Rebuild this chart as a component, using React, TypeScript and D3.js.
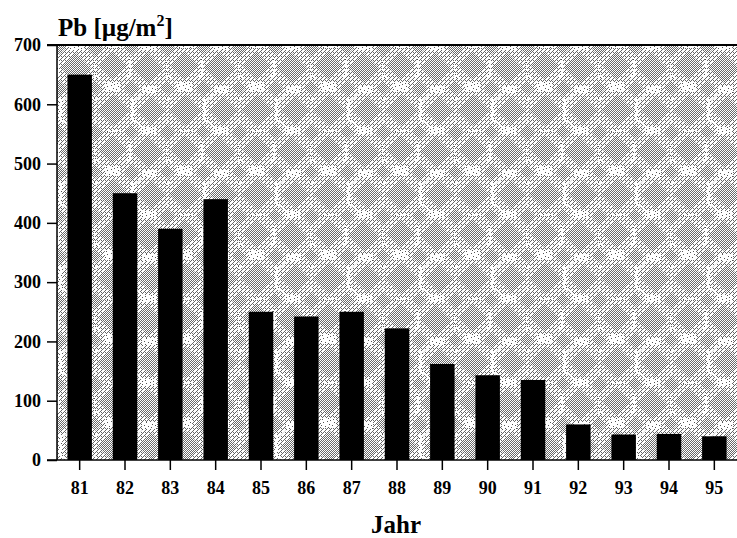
/** App.tsx */
import { useEffect, useRef } from 'react'
import * as d3 from 'd3'

// Jahr (x axis categories)
const years = ['81', '82', '83', '84', '85', '86', '87', '88', '89', '90', '91', '92', '93', '94', '95']
// Pb deposition [µg/m²]
const lead = [650, 450, 390, 440, 250, 242, 250, 222, 162, 143, 135, 60, 43, 44, 40]
// y axis ticks
const yTicks = [0, 100, 200, 300, 400, 500, 600, 700]

const WIDTH = 737
const HEIGHT = 538
const margin = { top: 45, right: 0, bottom: 78, left: 57 }
const FONT = '"Liberation Serif", "Times New Roman", serif'

// octagon path around a centre, used for the dithered blobs of the background
const octagon = (cx: number, cy: number, r: number) => {
  const k = r * 0.45
  return `M${cx - k},${cy - r} L${cx + k},${cy - r} L${cx + r},${cy - k} L${cx + r},${cy + k} L${cx + k},${cy + r} L${cx - k},${cy + r} L${cx - r},${cy + k} L${cx - r},${cy - k} Z`
}
// diamond path (rotated square)
const diamond = (cx: number, cy: number, r: number) =>
  `M${cx},${cy - r} L${cx + r},${cy} L${cx},${cy + r} L${cx - r},${cy} Z`

const App = () => {
  const svgRef = useRef<SVGSVGElement | null>(null)
  const width = WIDTH - margin.left - margin.right
  const height = HEIGHT - margin.top - margin.bottom

  useEffect(() => {
    document.body.style.margin = '0'

    const xScale = d3
      .scaleBand<string>()
      .domain(years)
      .range([0, width])
      .paddingInner(0.46)
      .paddingOuter(0.23)
    const yScale = d3.scaleLinear().domain([0, 700]).range([height, 0])

    const svgEl = d3.select(svgRef.current)
    svgEl.selectAll('*').remove()
    const defs = svgEl.append('defs')

    // helper: a small pixel pattern on white
    const pixelPattern = (id: string, w: number, h: number, pts: number[][], color: string) => {
      const p = defs
        .append('pattern')
        .attr('id', id)
        .attr('width', w)
        .attr('height', h)
        .attr('patternUnits', 'userSpaceOnUse')
      p.append('rect').attr('width', w).attr('height', h).attr('fill', '#fff')
      pts.forEach(([px, py]) => {
        p.append('rect').attr('x', px).attr('y', py).attr('width', 1).attr('height', 1).attr('fill', color)
      })
    }
    // dense checker inside the cores of the blobs
    pixelPattern('checker', 2, 2, [[0, 0], [1, 1]], '#6a6a6a')
    // medium density halo around the blobs
    pixelPattern('medium', 4, 4, [[0, 0], [2, 2], [1, 3], [3, 1], [2, 0]], '#666')
    // sparse scattered dots
    pixelPattern('sparse', 11, 9, [[0, 0], [4, 2], [8, 1], [2, 5], [6, 6], [10, 4], [3, 8], [9, 7]], '#555')

    // larger texture tile with blob clusters
    const tex = defs
      .append('pattern')
      .attr('id', 'texture')
      .attr('width', 72)
      .attr('height', 84)
      .attr('patternUnits', 'userSpaceOnUse')
      .attr('x', 2)
      .attr('y', 3)
    tex.append('rect').attr('width', 72).attr('height', 84).attr('fill', 'url(#sparse)')
    const blobs = [
      [17, 20, 13], [53, 17, 12], [20, 62, 12], [55, 63, 14],
      [72, 40, 6], [0, 40, 6], [36, 40, 5], [36, 84, 6], [36, 0, 6],
      [72, 84, 5], [0, 84, 5], [72, 0, 5], [0, 0, 5],
    ]
    tex
      .append('path')
      .attr('d', blobs.map(([cx, cy, r]) => octagon(cx, cy, r + 5)).join(' '))
      .attr('fill', 'url(#medium)')
    tex
      .append('path')
      .attr('d', blobs.map(([cx, cy, r]) => diamond(cx, cy, r + 2)).join(' '))
      .attr('fill', 'url(#checker)')

    const svg = svgEl
      .append('g')
      .attr('transform', `translate(${margin.left},${margin.top})`)

    // Plot background
    svg
      .append('rect')
      .attr('x', 0)
      .attr('y', 0)
      .attr('width', width)
      .attr('height', height)
      .attr('fill', 'url(#texture)')
      .attr('shape-rendering', 'crispEdges')

    // Bars
    svg
      .selectAll('.bar')
      .data(lead)
      .enter()
      .append('rect')
      .attr('class', 'bar')
      .attr('x', (_d, i) => xScale(years[i]) as number)
      .attr('y', (d) => yScale(d))
      .attr('width', xScale.bandwidth())
      .attr('height', (d) => height - yScale(d))
      .attr('fill', '#000')

    // Frame lines: top, left, bottom
    svg
      .append('line')
      .attr('x1', -10)
      .attr('x2', width)
      .attr('y1', 0)
      .attr('y2', 0)
      .attr('stroke', '#000')
      .attr('stroke-width', 2)
    svg
      .append('line')
      .attr('x1', 0)
      .attr('x2', 0)
      .attr('y1', 0)
      .attr('y2', height)
      .attr('stroke', '#000')
      .attr('stroke-width', 1.5)
    svg
      .append('line')
      .attr('x1', -10)
      .attr('x2', width)
      .attr('y1', height)
      .attr('y2', height)
      .attr('stroke', '#000')
      .attr('stroke-width', 1.5)

    // Y axis
    const yAxis = d3
      .axisLeft(yScale)
      .tickValues(yTicks)
      .tickSize(10)
      .tickPadding(6)
      .tickFormat((d) => String(d))
    const yAxisGroup = svg.append('g').call(yAxis)
    yAxisGroup.select('.domain').remove()
    yAxisGroup.selectAll('line').attr('stroke', '#000').attr('stroke-width', 1.5)
    yAxisGroup
      .selectAll('text')
      .attr('fill', '#000')
      .style('font-family', FONT)
      .style('font-weight', 'bold')
      .style('font-size', '18px')

    // X axis
    const xAxis = d3.axisBottom(xScale).tickSize(10).tickPadding(11)
    const xAxisGroup = svg.append('g').attr('transform', `translate(0, ${height})`).call(xAxis)
    xAxisGroup.select('.domain').remove()
    xAxisGroup.selectAll('line').attr('stroke', '#000').attr('stroke-width', 1.5)
    xAxisGroup
      .selectAll('text')
      .attr('fill', '#000')
      .style('font-family', FONT)
      .style('font-weight', 'bold')
      .style('font-size', '18px')

    // Y axis title
    const title = svgEl
      .append('text')
      .attr('x', 58)
      .attr('y', 36)
      .style('font-family', FONT)
      .style('font-weight', 'bold')
      .style('font-size', '25px')
      .attr('fill', '#000')
    title.append('tspan').text('Pb [µg/m')
    title.append('tspan').attr('dy', -10).style('font-size', '16px').text('2')
    title.append('tspan').attr('dy', 10).text(']')

    // X axis title
    svgEl
      .append('text')
      .attr('x', 396)
      .attr('y', 533)
      .attr('text-anchor', 'middle')
      .style('font-family', FONT)
      .style('font-weight', 'bold')
      .style('font-size', '25px')
      .attr('fill', '#000')
      .text('Jahr')
  }, [width, height])

  return <svg ref={svgRef} width={WIDTH} height={HEIGHT} style={{ display: 'block' }} />
}

export default App
